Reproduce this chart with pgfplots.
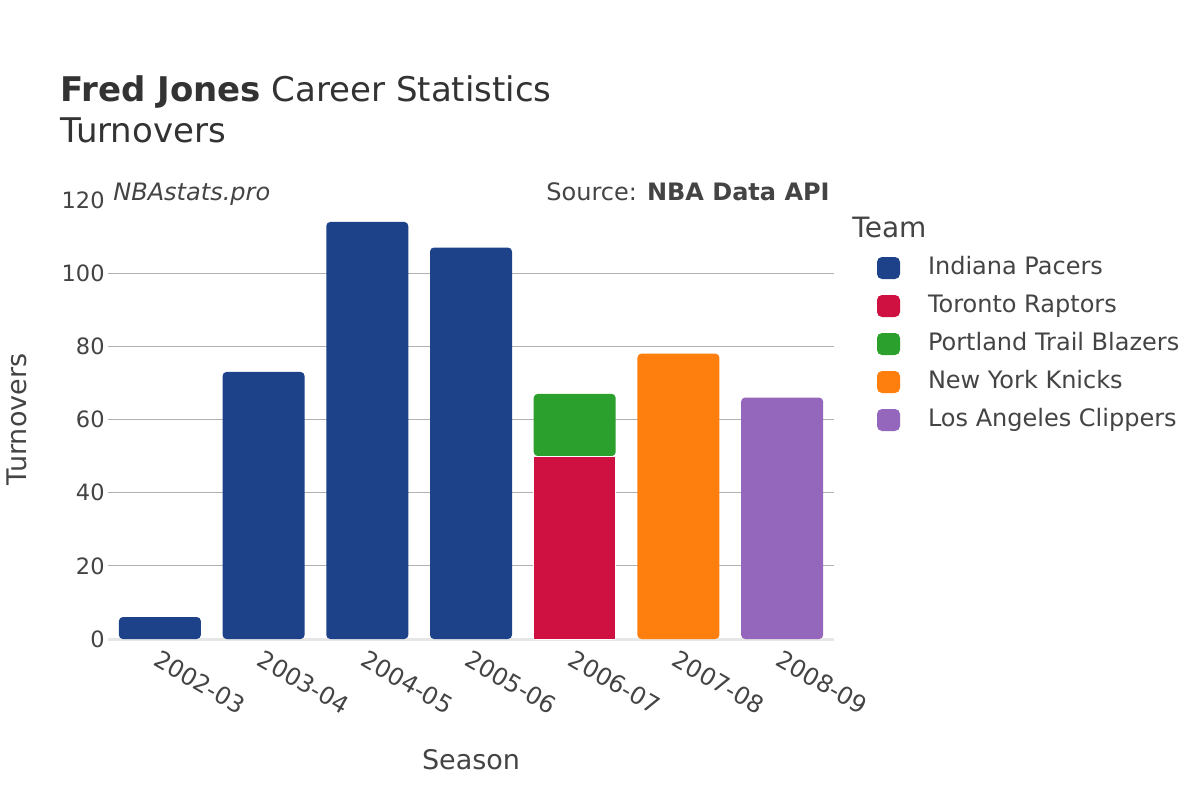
\documentclass[border=0pt]{standalone}
\usepackage{pgfplots}
\pgfplotsset{compat=1.18}
\usepackage{fontspec}
\setmainfont{DejaVu Sans}
\definecolor{ind}{HTML}{1D428A}
\definecolor{tor}{HTML}{CE1141}
\definecolor{por}{HTML}{2CA02C}
\definecolor{nyk}{HTML}{FF7F0E}
\definecolor{lac}{HTML}{9467BD}
\definecolor{txt}{HTML}{444444}
\definecolor{ttl}{HTML}{333333}
\definecolor{gridc}{HTML}{B0B0B0}
\definecolor{axc}{HTML}{E6E6E6}
\begin{document}
\begin{tikzpicture}[x=1pt,y=1pt]
\path[fill=white] (0,0) rectangle (600,400);
\begin{axis}[
  at={(54pt,80.5pt)}, anchor=south west,
  scale only axis, width=363pt, height=219.5pt,
  xmin=-0.5, xmax=6.5, ymin=0, ymax=120,
  ybar stacked, bar width=41pt,
  axis x line*=bottom, axis y line*=left,
  x axis line style={draw=axc, line width=1.5pt, -},
  y axis line style={draw=none, -},
  major tick length=0pt,
  ymajorgrids, grid style={draw=gridc, line width=0.5pt},
  ytick={0,20,40,60,80,100}, extra y ticks={120},
  extra y tick style={grid=none},
  xtick={0,1,2,3,4,5,6},
  xticklabels={2002-03,2003-04,2004-05,2005-06,2006-07,2007-08,2008-09},
  /pgf/number format/assume math mode=true,
  ticklabel style={font=\fontsize{11.25}{13}\selectfont, text=txt},
  yticklabel style={anchor=east, inner sep=0pt, xshift=-1.5pt},
  xticklabel style={font=\fontsize{12}{14}\selectfont, inner sep=0pt, xshift=0.5pt, yshift=-5pt, rotate=-30, anchor=north west},
  xlabel={Season}, ylabel={Turnovers},
  label style={font=\fontsize{13.5}{16}\selectfont, text=txt},
  xlabel style={at={(axis description cs:0.5,-0.2756)}, anchor=center},
  ylabel style={at={(axis description cs:-0.1253,0.5)}, anchor=center},
  legend style={at={(1,1)}, anchor=north west, xshift=21.5pt, yshift=-28.25pt,
    draw=none, fill=none, inner sep=0pt, outer sep=0pt, row sep=7.5pt, column sep=0pt,
    nodes={inner sep=0pt, text height=8.8pt, text depth=2.7pt, font=\fontsize{12}{14}\selectfont, text=txt}},
  legend cell align=left,
  legend image code/.code={\fill[#1, draw=none, rounded corners=2.5pt] (0pt,-5.5pt) rectangle (11.5pt,5.5pt); \path[draw=none, fill=none] (0pt,0pt) rectangle (25.5pt,0.1pt);},
]
\addplot[fill=ind, draw=none, rounded corners=2pt] coordinates {(0,6) (1,73) (2,114) (3,107) (4,0) (5,0) (6,0)};
\addplot[fill=tor, draw=white, line width=0.5pt] coordinates {(0,0) (1,0) (2,0) (3,0) (4,50) (5,0) (6,0)};
\addplot[fill=por, draw=none, rounded corners=2pt] coordinates {(0,0) (1,0) (2,0) (3,0) (4,17) (5,0) (6,0)};
\addplot[fill=nyk, draw=none, rounded corners=2pt] coordinates {(0,0) (1,0) (2,0) (3,0) (4,0) (5,78) (6,0)};
\addplot[fill=lac, draw=none, rounded corners=2pt] coordinates {(0,0) (1,0) (2,0) (3,0) (4,0) (5,0) (6,66)};
\legend{Indiana Pacers, Toronto Raptors, Portland Trail Blazers, New York Knicks, Los Angeles Clippers}
\end{axis}
\node[anchor=base west, inner sep=0pt, font=\fontsize{17}{20}\selectfont, text=ttl] at (30,349) {\textbf{Fred Jones} Career Statistics};
\node[anchor=base west, inner sep=0pt, font=\fontsize{17}{20}\selectfont, text=ttl] at (30,328.5) {Turnovers};
\node[anchor=base west, inner sep=0pt, font=\fontsize{12}{14}\selectfont\itshape, text=txt] at (56.5,300) {NBAstats.pro};
\node[anchor=base east, inner sep=0pt, font=\fontsize{12}{14}\selectfont, text=txt] at (415,300) {Source: \textbf{NBA Data API}};
\node[anchor=base west, inner sep=0pt, font=\fontsize{14}{16}\selectfont, text=txt] at (426,281.5) {Team};
\end{tikzpicture}
\end{document}
